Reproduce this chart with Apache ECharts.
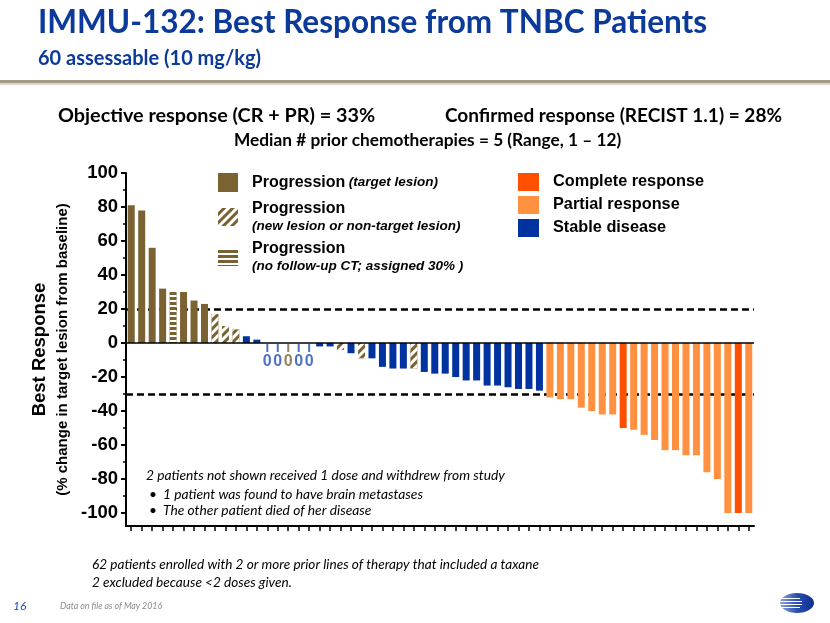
<!DOCTYPE html>
<html><head><meta charset="utf-8">
<script src="https://cdn.jsdelivr.net/npm/echarts@6.0.0/dist/echarts.min.js"></script>
<style>html,body{margin:0;padding:0;background:#fff}#c{width:830px;height:623px}</style>
</head><body><div id="c"></div>
<script>
// ---- data ----
const bestResponse = [81,78,56,32,30,30,25,23,17,10,8,4,2,0,0,0,0,0,-2,-2,-4,-6,-9,-9,-14,-15,-15,-15,-17,-18,-18,-20,-22,-22,-25,-25,-26,-27,-27,-28,-32,-33,-33,-38,-40,-42,-42,-50,-51,-54,-57,-63,-63,-66,-66,-76,-80,-100,-100,-100];
const responseType = ['PD','PD','PD','PD','PDc','PD','PD','PD','PDn','PDn','PDn','SD','SD','SD','SD','PD','SD','SD','SD','SD','PDn','SD','PDn','SD','SD','SD','SD','PDn','SD','SD','SD','SD','SD','SD','SD','SD','SD','SD','SD','SD','PR','PR','PR','PR','PR','PR','PR','CR','PR','PR','PR','PR','PR','PR','PR','PR','PR','PR','CR','PR'];
const patients = bestResponse.map((v, i) => String(i + 1));
const typeCodes = ['PD','PDn','PDc','CR','PR','SD'];
const legendMain = ['Progression','Progression','Progression','Complete response','Partial response','Stable disease'];
const legendSub = ['(target lesion)','(new lesion or non-target lesion)','(no follow-up CT; assigned 30% )','','',''];
const yTickLabels = [-100,-80,-60,-40,-20,0,20,40,60,80,100];
const yMinorTicks = [-90,-70,-50,-30,-10,10,30,50,70,90];
const thresholdLines = [20,-30];

// ---- styles ----
const colors = {PD:'#7A6232', PDn:'#7A6232', PDc:'#7A6232', CR:'#FF5000', PR:'#FF9140', SD:'#0033A0'};
const zeroLabelColors = {PD:'#7A6232', SD:'#1F4FB5'};
const decals = {
  PDn: {symbol:'rect', symbolSize:1, dashArrayX:[1,0], dashArrayY:[2.5,2.5], rotation:-Math.PI/4, color:'#ffffff'},
  PDc: {symbol:'rect', symbolSize:1, dashArrayX:[1,0], dashArrayY:[1.3,2.7], rotation:0, color:'#ffffff'}
};
const ARIAL = 'Liberation Sans, Arial, sans-serif';
const CAL = 'Lato, sans-serif';
const yMin = -107.6, yMax = 100;

const barSeries = typeCodes.map(code => ({
  name: code, type: 'bar', stack: 'resp', barWidth: 7,
  xAxisIndex: 0, yAxisIndex: 0,
  itemStyle: Object.assign({color: colors[code]}, decals[code] ? {decal: decals[code]} : {}),
  data: bestResponse.map((v, i) => responseType[i] === code ? v : '-'),
  z: 2
}));

function zeroColor(i) { return zeroLabelColors[responseType[i]] || colors[responseType[i]]; }
const zeroSeries = {
  name: 'zero', type: 'scatter', xAxisIndex: 0, yAxisIndex: 0,
  symbol: 'rect', symbolSize: [2, 8], symbolOffset: [0, 5], z: 4,
  label: {show: true, position: 'bottom', distance: 2, formatter: '0', fontFamily: ARIAL, fontWeight: 'bold', fontSize: 16},
  data: bestResponse.map((v, i) => v === 0 ? {value: 0, itemStyle: {color: zeroColor(i)},
    label: {color: zeroColor(i), fontFamily: ARIAL, fontWeight: 'bold', fontSize: 16}} : '-')
};

const lineSeries = {
  name: 'thr', type: 'line', xAxisIndex: 0, yAxisIndex: 0, data: [], z: 1,
  markLine: {silent: true, symbol: 'none', z: 1, animation: false, label: {show: false},
    lineStyle: {type: [7, 4], width: 2.5, color: '#000'},
    data: thresholdLines.map(v => ({yAxis: v}))}
};
const zeroLine = {
  name: 'zeroLine', type: 'line', xAxisIndex: 0, yAxisIndex: 0, data: [], z: 5,
  markLine: {silent: true, symbol: 'none', z: 5, animation: false, label: {show: false},
    lineStyle: {type: 'solid', width: 1.5, color: '#000'},
    data: [{yAxis: 0}]}
};

function legendFormatter(name) {
  const k = typeCodes.indexOf(name);
  if (k === 0) return '{t|' + legendMain[k] + '} {i|' + legendSub[k] + '}';
  if (legendSub[k]) return '{t|' + legendMain[k] + '}\n{i|' + legendSub[k] + '}';
  return '{r|' + legendMain[k] + '}';
}
const legendText = {
  fontFamily: ARIAL, color: '#000', padding: [0, 0, 0, 9],
  rich: {
    t: {fontFamily: ARIAL, fontSize: 16, fontWeight: 'bold', color: '#000', lineHeight: 18},
    i: {fontFamily: ARIAL, fontSize: 13.5, fontWeight: 'bold', fontStyle: 'italic', color: '#000', lineHeight: 16},
    r: {fontFamily: ARIAL, fontSize: 16.3, fontWeight: 'bold', color: '#000', lineHeight: 18}
  }
};
function mkLegend(names, top, left, extra) {
  return Object.assign({
    data: names, left: left, top: top, orient: 'vertical', icon: 'rect', selectedMode: false,
    itemWidth: 20, itemHeight: 18, itemGap: 5, padding: 0,
    formatter: legendFormatter, textStyle: legendText
  }, extra || {});
}

const graphics = [
  {type: 'text', left: 38, top: 7, style: {text: 'IMMU-132: Best Response from TNBC Patients', fontFamily: CAL, fontWeight: 'bold', fontSize: 31.5, fill: '#0C3A9A'}},
  {type: 'text', left: 38, top: 49, style: {text: '60 assessable (10 mg/kg)', fontFamily: CAL, fontWeight: 'bold', fontSize: 20, fill: '#0C3A9A'}},
  {type: 'rect', left: 0, top: 80, shape: {width: 830, height: 3}, style: {fill: '#A39C86'}},
  {type: 'rect', left: 0, top: 83, shape: {width: 830, height: 2}, style: {fill: '#DAD6CB'}},
  {type: 'text', left: 58, top: 106, style: {text: 'Objective response (CR + PR) = 33%', fontFamily: CAL, fontWeight: 'bold', fontSize: 19.8, fill: '#000'}},
  {type: 'text', left: 445, top: 106, style: {text: 'Confirmed response (RECIST 1.1) = 28%', fontFamily: CAL, fontWeight: 'bold', fontSize: 19, fill: '#000'}},
  {type: 'text', left: 234, top: 132, style: {text: 'Median # prior chemotherapies = 5 (Range, 1 \u2013 12)', fontFamily: CAL, fontWeight: 'bold', fontSize: 17.3, fill: '#000'}},
  {type: 'text', left: 146, top: 469, style: {text: '2 patients not shown received 1 dose and withdrew from study', fontFamily: CAL, fontStyle: 'italic', fontSize: 13.8, fill: '#000'}},
  {type: 'text', left: 149, top: 488, style: {text: '\u2022', fontFamily: CAL, fontSize: 13.8, fill: '#000'}},
  {type: 'text', left: 163, top: 488, style: {text: '1 patient was found to have brain metastases', fontFamily: CAL, fontStyle: 'italic', fontSize: 13.8, fill: '#000'}},
  {type: 'text', left: 149, top: 504, style: {text: '\u2022', fontFamily: CAL, fontSize: 13.8, fill: '#000'}},
  {type: 'text', left: 163, top: 504, style: {text: 'The other patient died of her disease', fontFamily: CAL, fontStyle: 'italic', fontSize: 13.8, fill: '#000'}},
  {type: 'text', left: 92, top: 558, style: {text: '62 patients enrolled with 2 or more prior lines of therapy that included a taxane', fontFamily: CAL, fontStyle: 'italic', fontSize: 13.6, fill: '#000'}},
  {type: 'text', left: 92, top: 576, style: {text: '2 excluded because <2 doses given.', fontFamily: CAL, fontStyle: 'italic', fontSize: 13.6, fill: '#000'}},
  {type: 'text', left: 13, top: 600, style: {text: '16', fontFamily: CAL, fontStyle: 'italic', fontSize: 12, fill: '#1F4FB5'}},
  {type: 'text', left: 60, top: 602, style: {text: 'Data on file as of May 2016', fontFamily: CAL, fontStyle: 'italic', fontSize: 8.8, fill: '#8C8C8C'}},
  {type: 'group', left: 780, top: 593, children: [
    {type: 'ellipse', shape: {cx: 17, cy: 10, rx: 17, ry: 10}, style: {fill: new echarts.graphic.LinearGradient(0, 0, 1, 0, [{offset: 0, color: '#8FA6D9'}, {offset: 0.5, color: '#2A4DB0'}, {offset: 1, color: '#0B2E8F'}])}},
    {type: 'rect', shape: {x: 0, y: 5, width: 20, height: 1}, style: {fill: '#fff'}},
    {type: 'rect', shape: {x: 0, y: 8, width: 22, height: 1}, style: {fill: '#fff'}},
    {type: 'rect', shape: {x: 0, y: 11, width: 22, height: 1}, style: {fill: '#fff'}},
    {type: 'rect', shape: {x: 0, y: 14, width: 20, height: 1}, style: {fill: '#fff'}}
  ]}
];

const option = {
  animation: false,
  backgroundColor: '#fff',
  grid: [
    {left: 126, right: 76, top: 173, bottom: 97},
    {left: 126, right: 76, top: 173, bottom: 97}
  ],
  xAxis: [
    {type: 'category', gridIndex: 0, data: patients, position: 'bottom',
      axisLine: {onZero: false, lineStyle: {color: '#000', width: 2}},
      axisTick: {show: true, alignWithLabel: true, interval: 0, length: 5, lineStyle: {color: '#000', width: 1.5}},
      axisLabel: {show: false}, splitLine: {show: false}},
    {type: 'category', gridIndex: 1, data: patients, show: false}
  ],
  yAxis: [
    {type: 'value', gridIndex: 0, min: yMin, max: yMax, position: 'left',
      splitLine: {show: false},
      axisLine: {show: true, lineStyle: {color: '#000', width: 2}},
      axisTick: {show: true, length: 5, lineStyle: {color: '#000', width: 2}, customValues: yTickLabels},
      axisLabel: {customValues: yTickLabels, fontFamily: ARIAL, fontSize: 18.5, fontWeight: 'bold', color: '#000', margin: 8},
      name: '{a|Best Response}\n{b|(% change in target lesion from baseline)}',
      nameLocation: 'middle', nameRotate: 90, nameGap: 52,
      nameTextStyle: {align: 'center', rich: {
        a: {fontFamily: ARIAL, fontSize: 18.5, fontWeight: 'bold', color: '#000', lineHeight: 26, align: 'center'},
        b: {fontFamily: ARIAL, fontSize: 15, fontWeight: 'bold', color: '#000', lineHeight: 19, align: 'center'}
      }}},
    {type: 'value', gridIndex: 1, min: yMin, max: yMax, position: 'left',
      splitLine: {show: false}, axisLine: {show: false},
      axisTick: {show: true, length: 3, lineStyle: {color: '#000', width: 1.5}, customValues: yMinorTicks},
      axisLabel: {show: false}}
  ],
  legend: [
    mkLegend(['PD'], 173, 218, {itemHeight: 19}),
    mkLegend(['PDn'], 201, 218),
    mkLegend(['PDc'], 241, 218),
    mkLegend(['CR', 'PR', 'SD'], 173, 518, {itemWidth: 21})
  ],
  graphic: graphics,
  series: [lineSeries].concat(barSeries, [zeroSeries, zeroLine])
};
const chart = echarts.init(document.getElementById('c'), null, {renderer: 'canvas'});
chart.setOption(option);
</script>
</body></html>
